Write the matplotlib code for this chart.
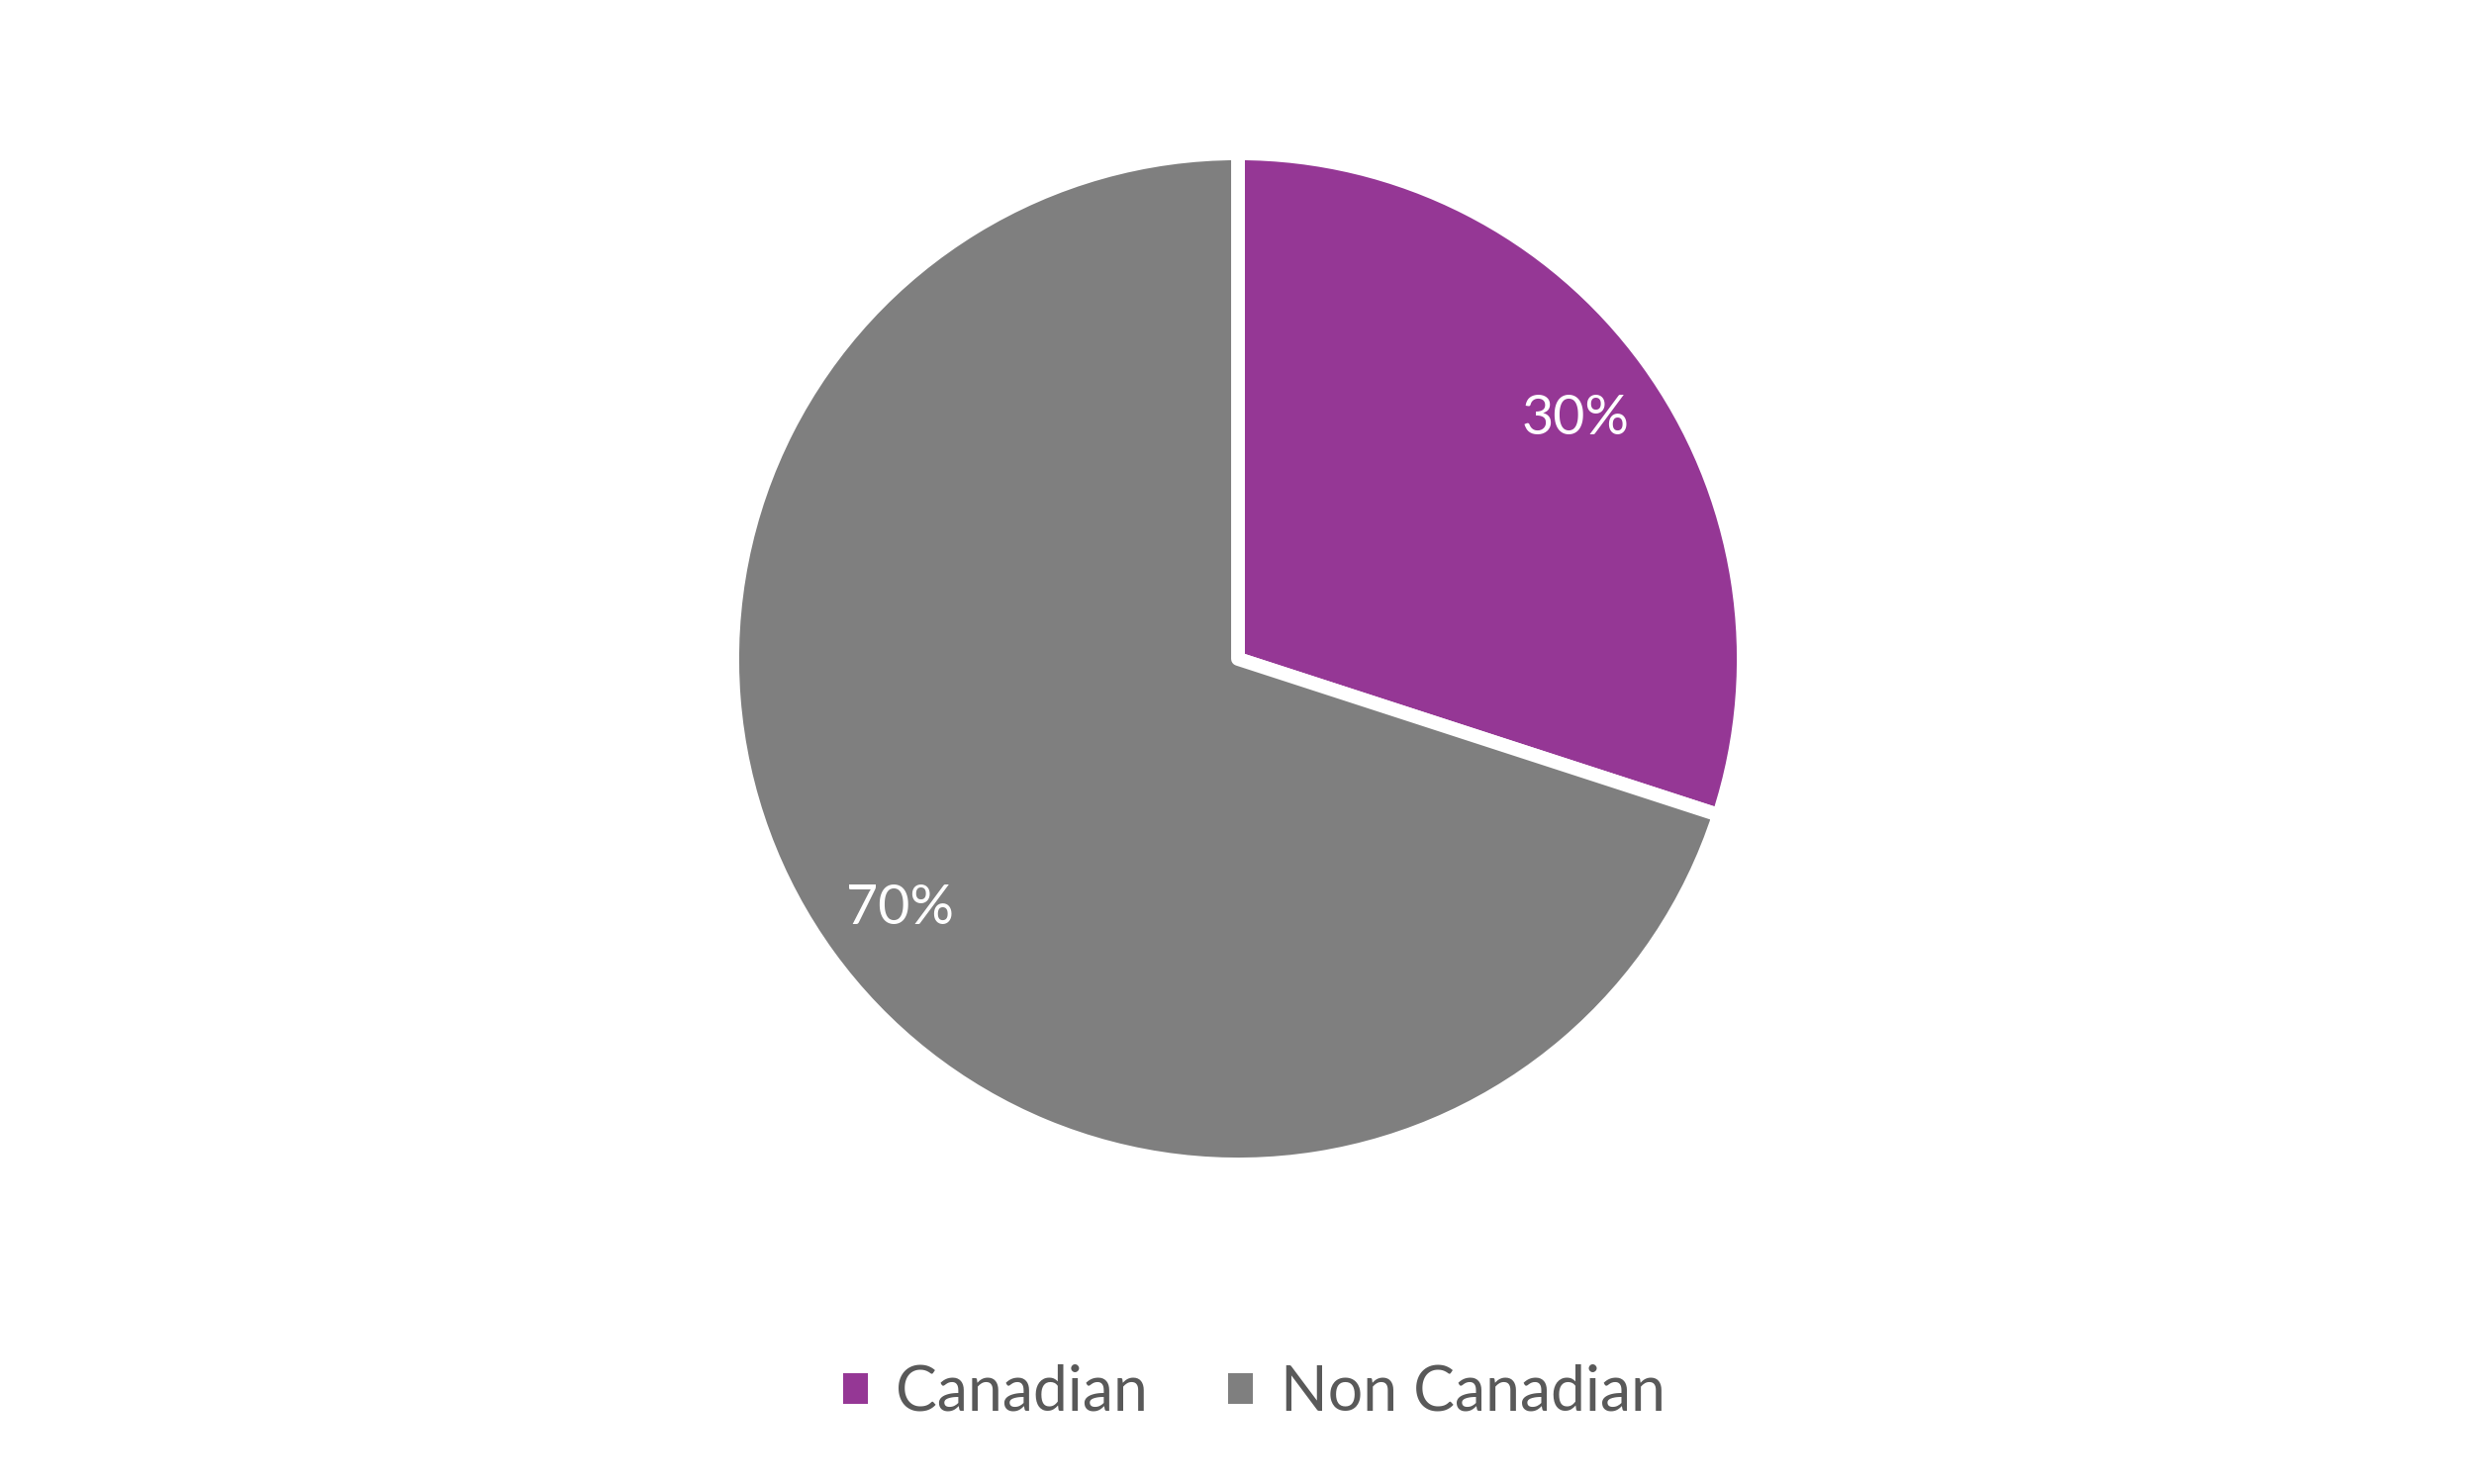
import matplotlib
matplotlib.use("Agg")
import matplotlib.pyplot as plt
from matplotlib.patches import Patch

categories = ["Canadian", "Non Canadian"]
values = [30, 70]
colors = ["#953795", "#7F7F7F"]

plt.rcParams['font.family'] = ['Lato', 'DejaVu Sans']

W, H = 2500, 1500
fig = plt.figure(figsize=(25, 15), dpi=100)
cx, cy, r = 1251, 666, 511
ax = fig.add_axes([(cx - r) / W, 1 - (cy + r) / H, 2 * r / W, 2 * r / H])

wedges, texts, autotexts = ax.pie(
    values, colors=colors, startangle=90, counterclock=False,
    autopct=lambda p: f"{p:.0f}%", pctdistance=0.825, radius=1,
    wedgeprops=dict(edgecolor="white", linewidth=10, joinstyle="round"),
    textprops=dict(color="white", fontsize=40))
for t in autotexts:
    t.set_verticalalignment("center_baseline")
ax.set_xlim(-1, 1)
ax.set_ylim(-1, 1)
ax.set_aspect("equal")
ax.axis("off")

handles = [Patch(facecolor=c, edgecolor="none") for c in colors]
leg = fig.legend(handles, categories, loc="center", bbox_to_anchor=(0.507, 1 - 1408 / H),
                 ncol=2, frameon=False, fontsize=45, labelcolor="#595959",
                 handlelength=0.4, handleheight=0.4, handletextpad=0.45, columnspacing=1.3)

fig.savefig("out.png", dpi=100, facecolor="white")
